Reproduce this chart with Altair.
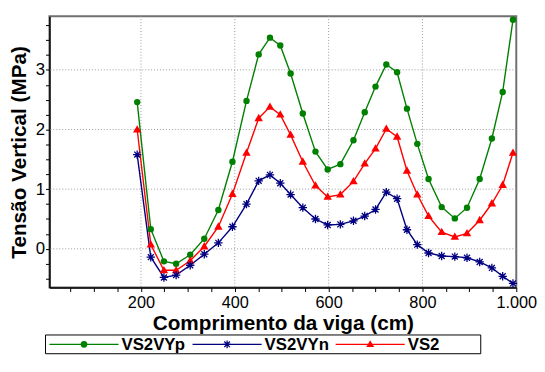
import altair as alt
import pandas as pd

# ---- data ----
x_cm = [192, 221, 249, 275, 305, 335, 365, 395, 425, 451, 475, 497, 519, 545, 572, 598,
        625, 653, 677, 700, 723, 746, 767, 789, 813, 841, 869, 895, 922, 948, 971, 993]
vs2vyp = [2.46, 0.33, -0.21, -0.25, -0.10, 0.17, 0.65, 1.46, 2.48, 3.26, 3.54, 3.41, 2.94, 2.27, 1.63, 1.33,
          1.42, 1.82, 2.29, 2.72, 3.09, 2.96, 2.35, 1.76, 1.17, 0.70, 0.51, 0.69, 1.17, 1.85, 2.63, 3.84]
vs2vyn = [1.58, -0.14, -0.48, -0.44, -0.275, -0.09, 0.10, 0.37, 0.75, 1.14, 1.24, 1.10, 0.91, 0.69, 0.50, 0.40,
          0.41, 0.47, 0.55, 0.66, 0.95, 0.84, 0.32, 0.07, -0.07, -0.12, -0.13, -0.15, -0.22, -0.32, -0.46, -0.58]
vs2 = [2.00, 0.07, -0.36, -0.36, -0.20, 0.04, 0.37, 0.92, 1.61, 2.19, 2.38, 2.25, 1.91, 1.46, 1.06, 0.87,
       0.91, 1.13, 1.43, 1.68, 2.01, 1.88, 1.31, 0.91, 0.55, 0.28, 0.20, 0.26, 0.48, 0.76, 1.07, 1.61]

series_names = ["VS2VYp", "VS2VYn", "VS2"]
series_colors = ["#008000", "#000080", "#ff0000"]

x_ticks = list(range(50, 1001, 50))
y_ticks = [v / 4 for v in range(-2, 16)]
x_grid = [200, 400, 600, 800]
y_grid = [0, 1, 2, 3]

rows = []
for name, vals in zip(series_names, [vs2vyp, vs2vyn, vs2]):
    for xv, yv in zip(x_cm, vals):
        rows.append({"x": xv, "y": yv, "serie": name})
df = pd.DataFrame(rows)
legend_df = pd.DataFrame({"serie": series_names})

FONT = "Liberation Sans"
X_DOM = [5, 1000]
Y_DOM = [-0.65, 3.9]
W, H = 473, 275

xscale = alt.Scale(domain=X_DOM, nice=False, zero=False)
yscale = alt.Scale(domain=Y_DOM, nice=False, zero=False)
cscale = alt.Scale(domain=series_names, range=series_colors)

x_axis = alt.Axis(
    values=x_ticks,
    labelExpr="datum.value % 200 == 0 ? replace(format(datum.value, ','), ',', '.') : ''",
    grid=False, tickSize=4, tickColor="black", domainColor="black", domainWidth=1.5,
    labelFont=FONT, labelFontSize=16.5, labelColor="black", labelPadding=3, labelFlush=False,
    labelOverlap=False,
    title="Comprimento da viga (cm)", titleFont=FONT, titleFontSize=21, titleFontWeight="bold",
    titleColor="black", titlePadding=2,
)
y_axis = alt.Axis(
    values=y_ticks,
    labelExpr="datum.value % 1 == 0 ? format(datum.value, 'd') : ''",
    grid=False, tickSize=4, tickColor="black", domainColor="black", domainWidth=1.5,
    labelFont=FONT, labelFontSize=17, labelColor="black", labelPadding=1, labelFlush=False,
    labelOverlap=False,
    title="Tensão Vertical (MPa)", titleFont=FONT, titleFontSize=21, titleFontWeight="bold",
    titleColor="black", titlePadding=6,
)

grid_style = dict(color="#9a9a9a", strokeDash=[1, 2], strokeWidth=1)
xg = alt.Chart(pd.DataFrame({"g": x_grid})).mark_rule(**grid_style).encode(
    x=alt.X("g:Q", scale=xscale, axis=x_axis))
yg = alt.Chart(pd.DataFrame({"g": y_grid})).mark_rule(**grid_style).encode(
    y=alt.Y("g:Q", scale=yscale, axis=y_axis))

base = alt.Chart(df).encode(
    x=alt.X("x:Q", scale=xscale, axis=x_axis),
    y=alt.Y("y:Q", scale=yscale, axis=y_axis),
)

STAR = "M-1,0H1M0,-1V1M-0.71,-0.71L0.71,0.71M-0.71,0.71L0.71,-0.71"
TRI = "M0,-1.05L1,0.7L-1,0.7Z"

data_layers = [xg, yg]
for name, col in zip(series_names, series_colors):
    data_layers.append(base.transform_filter(alt.datum.serie == name).mark_line(strokeWidth=1.4, color=col))
data_layers.append(base.transform_filter(alt.datum.serie == "VS2VYp").mark_point(
    shape="circle", filled=True, size=42, opacity=1, color="#008000"))
data_layers.append(base.transform_filter(alt.datum.serie == "VS2").mark_point(
    shape=TRI, filled=True, size=72, opacity=1, color="#ff0000"))
data_layers.append(base.transform_filter(alt.datum.serie == "VS2VYn").mark_point(
    shape=STAR, filled=False, size=72, strokeWidth=1.3, opacity=1, color="#000080"))
plot = alt.layer(*data_layers)

# ---- legend drawn below the plot (box, line + marker, bold label per series) ----
LEG_Y = 332.5
lx = alt.X("serie:N", scale=alt.Scale(type="point", domain=series_names, range=[35, 325], padding=0), axis=None)
lbase = alt.Chart(legend_df).encode(x=lx, y=alt.value(LEG_Y))
leg_box = alt.Chart(legend_df.head(1)).mark_rect(filled=False, stroke="black", strokeWidth=1).encode(
    x=alt.value(-4), x2=alt.value(437), y=alt.value(323), y2=alt.value(342))
leg_line = lbase.mark_rule(strokeWidth=1.3, xOffset=-35, x2Offset=35).encode(
    x2="serie:N", color=alt.Color("serie:N", scale=cscale, legend=None))
leg_c = lbase.transform_filter(alt.datum.serie == "VS2VYp").mark_point(
    shape="circle", filled=True, size=46, opacity=1, color="#008000")
leg_s = lbase.transform_filter(alt.datum.serie == "VS2VYn").mark_point(
    shape=STAR, filled=False, size=64, strokeWidth=1.3, opacity=1, color="#000080")
leg_t = lbase.transform_filter(alt.datum.serie == "VS2").mark_point(
    shape=TRI, filled=True, size=64, opacity=1, color="#ff0000")
leg_txt = lbase.mark_text(align="left", baseline="middle", dx=38, dy=1, font=FONT, fontSize=17,
                          fontWeight="bold", color="black").encode(text="serie:N")
legend = alt.layer(leg_box, leg_line, leg_c, leg_s, leg_t, leg_txt)

chart = alt.layer(plot, legend).resolve_scale(x="independent", y="independent", color="independent").properties(
    width=W, height=H,
    padding={"left": 0, "top": 5, "right": 0, "bottom": 0},
    background="white",
).configure_view(stroke="#707070", strokeWidth=2)

chart.save("out.html", embed_options={"renderer": "svg", "actions": False})
